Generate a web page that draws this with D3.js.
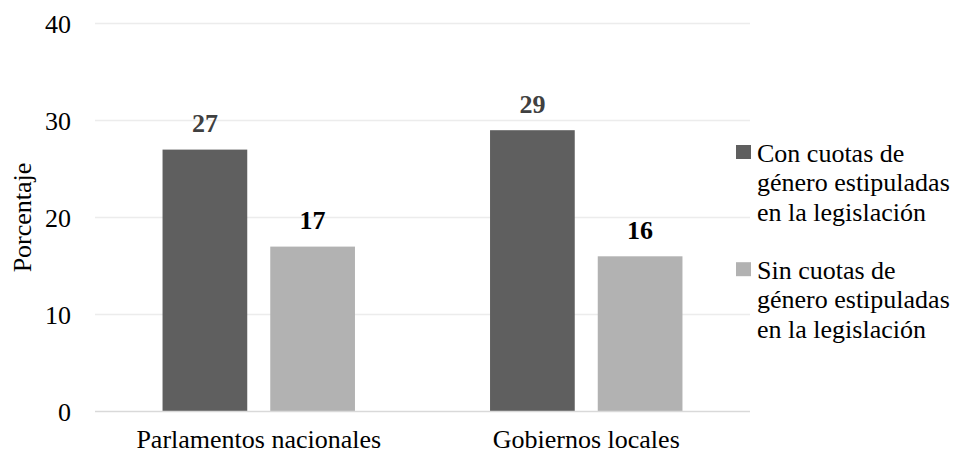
<!DOCTYPE html>
<html>
<head>
<meta charset="utf-8">
<script src="https://cdn.jsdelivr.net/npm/d3@7"></script>
<style>
  html, body { margin: 0; padding: 0; background: #ffffff; }
  svg { display: block; }
  text { font-family: "Liberation Serif", "Times New Roman", serif; }
</style>
</head>
<body>
<svg id="chart" width="956" height="454"></svg>
<script>
// Categories on the x axis
const categories = ["Parlamentos nacionales", "Gobiernos locales"];
// Series names (legend lines) and their values per category
const seriesNames = ["Con cuotas de género estipuladas en la legislación",
                     "Sin cuotas de género estipuladas en la legislación"];
const legendLines = [["Con cuotas de", "género estipuladas", "en la legislación"],
                     ["Sin cuotas de", "género estipuladas", "en la legislación"]];
const conCuotas = [27, 29];
const sinCuotas = [17, 16];
const yTicks = [0, 10, 20, 30, 40];
const yTitle = "Porcentaje";

const seriesValues = [conCuotas, sinCuotas];
const barColors = ["#5f5f5f", "#b2b2b2"];
const labelColors = ["#404040", "#000000"];

const svg = d3.select("#chart");
const fontSize = 26;

const plot = { left: 95, right: 750, top: 23.5, bottom: 411.5 };

const y = d3.scaleLinear().domain([0, 40]).range([plot.bottom, plot.top]);
const x0 = d3.scaleBand().domain(categories).range([plot.left, plot.right])
  .paddingInner(0).paddingOuter(0);
const x1 = d3.scaleBand().domain(d3.range(seriesNames.length))
  .range([0, x0.bandwidth()]).paddingInner(0.2136).paddingOuter(0.627);

// Horizontal gridlines
svg.append("g")
  .selectAll("line")
  .data(yTicks.filter(t => t !== 0))
  .join("line")
  .attr("x1", plot.left).attr("x2", plot.right)
  .attr("y1", d => y(d)).attr("y2", d => y(d))
  .attr("stroke", "#ececec").attr("stroke-width", 1.3);

// Y axis tick labels
const yAxis = d3.axisLeft(y).tickValues(yTicks).tickSize(0).tickPadding(0);
const yG = svg.append("g").attr("transform", `translate(71,0)`).call(yAxis);
yG.select(".domain").remove();
yG.selectAll("text")
  .attr("x", 0).attr("dy", "0.34em")
  .attr("font-size", fontSize)
  .attr("font-family", "\"Liberation Serif\", \"Times New Roman\", serif")
  .attr("fill", "#000");

// Bars
const groups = svg.append("g")
  .selectAll("g")
  .data(categories)
  .join("g")
  .attr("transform", d => `translate(${x0(d)},0)`);

groups.selectAll("rect")
  .data((c, ci) => seriesValues.map((vals, si) => ({ si, v: vals[ci] })))
  .join("rect")
  .attr("x", d => x1(d.si))
  .attr("width", x1.bandwidth())
  .attr("y", d => y(d.v))
  .attr("height", d => y(0) - y(d.v))
  .attr("fill", d => barColors[d.si]);

// Value labels above bars
groups.selectAll("text.val")
  .data((c, ci) => seriesValues.map((vals, si) => ({ si, v: vals[ci] })))
  .join("text")
  .attr("class", "val")
  .attr("x", d => x1(d.si) + x1.bandwidth() / 2)
  .attr("y", d => y(d.v) - 17.5)
  .attr("text-anchor", "middle")
  .attr("font-size", fontSize)
  .attr("font-weight", "bold")
  .attr("fill", d => labelColors[d.si])
  .text(d => d.v);

// Baseline (zero line)
svg.append("line")
  .attr("x1", plot.left).attr("x2", plot.right)
  .attr("y1", y(0)).attr("y2", y(0))
  .attr("stroke", "#d9d9d9").attr("stroke-width", 1.5);

// X axis category labels
const xAxis = d3.axisBottom(x0).tickSize(0).tickPadding(0);
const xG = svg.append("g").attr("transform", `translate(0,448)`).call(xAxis);
xG.select(".domain").remove();
xG.selectAll("text")
  .attr("y", 0).attr("dy", 0)
  .attr("font-size", fontSize)
  .attr("font-family", "\"Liberation Serif\", \"Times New Roman\", serif")
  .attr("fill", "#000");

// Y axis title
svg.append("text")
  .attr("transform", `translate(31,${(plot.top + plot.bottom) / 2}) rotate(-90)`)
  .attr("text-anchor", "middle")
  .attr("font-size", fontSize)
  .attr("fill", "#000")
  .text(yTitle);

// Legend
const lineH = 29.3;
const legend = svg.append("g")
  .selectAll("g")
  .data(seriesNames)
  .join("g")
  .attr("transform", (d, i) => `translate(736,${162 + i * 4 * lineH})`);

legend.append("rect")
  .attr("x", 0).attr("y", -17)
  .attr("width", 15).attr("height", 14)
  .attr("fill", (d, i) => barColors[i]);

legend.append("text")
  .attr("x", 21).attr("y", 0)
  .attr("font-size", fontSize)
  .attr("fill", "#000")
  .selectAll("tspan")
  .data((d, i) => legendLines[i])
  .join("tspan")
  .attr("x", 21)
  .attr("dy", (d, j) => j === 0 ? 0 : lineH)
  .text(d => d);
</script>
</body>
</html>
